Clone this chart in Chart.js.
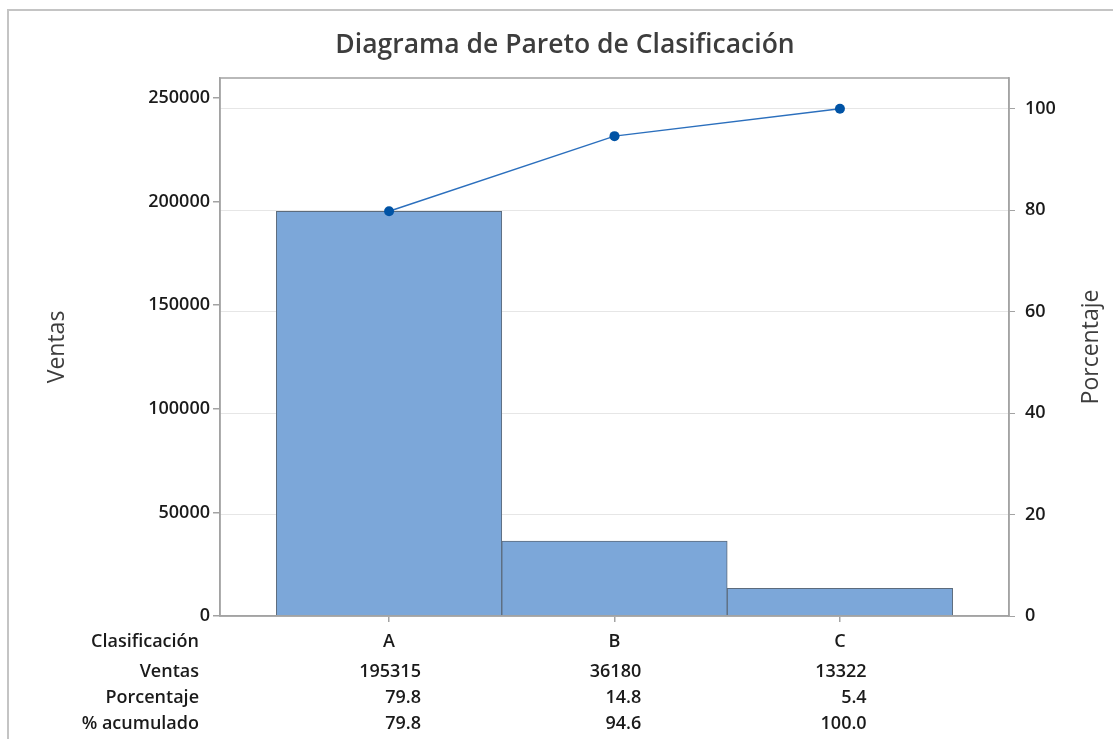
<!DOCTYPE html>
<html>
<head>
<meta charset="utf-8">
<script src="https://cdn.jsdelivr.net/npm/chart.js@4"></script>
<style>
html,body{margin:0;padding:0;background:#fff;}
#wrap{width:1113px;height:739px;position:relative;}
</style>
</head>
<body>
<div id="wrap"><canvas id="c" width="1113" height="739"></canvas></div>
<script>
const categories = ['A', 'B', 'C'];
const ventas = [195315, 36180, 13322];
const porcentaje = ['79.8', '14.8', '5.4'];
const acumulado = [79.8, 94.6, 100.0];
const acumuladoLabels = ['79.8', '94.6', '100.0'];
const leftTicks = [0, 50000, 100000, 150000, 200000, 250000];
const rightTicks = [0, 20, 40, 60, 80, 100];
const rowLabels = ['Clasificación', 'Ventas', 'Porcentaje', '% acumulado'];
const title = 'Diagrama de Pareto de Clasificación';

const total = ventas.reduce((a, b) => a + b, 0);
const leftMax = 259650;
const rightMax = leftMax / total * 100;

const FONT = '"Open Sans", "Noto Sans", sans-serif';
const TXT = '#1a1a1a';
const AXIS = '#a3a3a3';
const FS = 18;
const FW = '600';

const decor = {
  id: 'decor',
  beforeDraw(chart) {
    const ctx = chart.ctx;
    ctx.save();
    ctx.fillStyle = '#fff';
    ctx.fillRect(0, 0, chart.width, chart.height);
    ctx.strokeStyle = '#c4c4c4';
    ctx.lineWidth = 2;
    ctx.beginPath();
    ctx.moveTo(8, chart.height);
    ctx.lineTo(8, 10);
    ctx.lineTo(chart.width, 10);
    ctx.stroke();
    ctx.restore();
  },
  afterDraw(chart) {
    const ctx = chart.ctx;
    const a = chart.chartArea;
    const xs = chart.scales.x;
    ctx.save();
    ctx.strokeStyle = AXIS;
    ctx.lineWidth = 1.5;
    ctx.strokeRect(a.left, a.top, a.right - a.left, a.bottom - a.top);
    ctx.fillStyle = '#3d3d3d';
    ctx.font = '600 26.5px ' + FONT;
    ctx.textAlign = 'center';
    ctx.textBaseline = 'alphabetic';
    ctx.fillText(title, 565, 53);
    ctx.font = '500 23px ' + FONT;
    ctx.fillStyle = '#3d3d3d';
    ctx.textBaseline = 'middle';
    ctx.save();
    ctx.translate(57, (a.top + a.bottom) / 2);
    ctx.rotate(-Math.PI / 2);
    ctx.fillText('Ventas', 0, 0);
    ctx.restore();
    ctx.save();
    ctx.translate(1091, (a.top + a.bottom) / 2);
    ctx.rotate(-Math.PI / 2);
    ctx.fillText('Porcentaje', 0, 0);
    ctx.restore();
    ctx.font = FW + ' ' + FS + 'px ' + FONT;
    ctx.fillStyle = TXT;
    ctx.textBaseline = 'alphabetic';
    const base = [647, 677, 703, 729];
    ctx.textAlign = 'right';
    rowLabels.forEach((l, i) => ctx.fillText(l, 199, base[i]));
    categories.forEach((c, i) => {
      const cx = xs.getPixelForValue(i);
      ctx.textAlign = 'center';
      ctx.fillText(c, cx, base[0]);
      const vals = [String(ventas[i]), porcentaje[i], acumuladoLabels[i]];
      const w = Math.max(...vals.map(v => ctx.measureText(v).width));
      const rx = cx + w / 2 + 1;
      ctx.textAlign = 'right';
      vals.forEach((v, j) => ctx.fillText(v, rx, base[j + 1]));
    });
    ctx.restore();
  }
};

new Chart(document.getElementById('c'), {
  data: {
    datasets: [
      {
        type: 'bar',
        data: categories.map((c, i) => ({ x: i, y: ventas[i] })),
        backgroundColor: '#7ca7d9',
        borderColor: '#5c6b7c',
        borderWidth: 1,
        barPercentage: 1,
        categoryPercentage: 1,
        yAxisID: 'y',
        order: 2
      },
      {
        type: 'line',
        data: categories.map((c, i) => ({ x: i, y: acumulado[i] })),
        borderColor: '#2b6fbd',
        borderWidth: 1.5,
        pointRadius: 5,
        pointBackgroundColor: '#0053a5',
        pointBorderWidth: 0,
        yAxisID: 'y1',
        order: 1
      }
    ]
  },
  options: {
    responsive: false,
    animation: false,
    layout: { padding: { left: 0, right: 0, top: 78, bottom: 0 } },
    plugins: { legend: { display: false }, tooltip: { enabled: false } },
    scales: {
      x: {
        type: 'linear',
        offset: false,
        min: -0.75,
        max: 2.75,
        afterBuildTicks: s => { s.ticks = categories.map((c, i) => ({ value: i })); },
        afterFit: s => { s.height = 123; },
        ticks: { callback: () => '', padding: 0 },
        grid: { offset: false, drawOnChartArea: false, tickLength: 6, color: AXIS, tickColor: AXIS, lineWidth: 1.5 },
        border: { display: true, color: AXIS, width: 1.5 }
      },
      y: {
        position: 'left',
        min: 0,
        max: leftMax,
        afterBuildTicks: s => { s.ticks = leftTicks.map(v => ({ value: v })); },
        afterFit: s => { s.width = 220; },
        ticks: { color: TXT, font: { family: FONT, size: FS, weight: FW }, padding: 3, callback: v => String(v) },
        grid: { drawOnChartArea: false, tickLength: 7, color: AXIS, tickColor: AXIS, lineWidth: 1.5 },
        border: { display: true, color: AXIS, width: 1.5 }
      },
      y1: {
        position: 'right',
        min: 0,
        max: rightMax,
        afterBuildTicks: s => { s.ticks = rightTicks.map(v => ({ value: v })); },
        afterFit: s => { s.width = 104; },
        ticks: { color: TXT, font: { family: FONT, size: FS, weight: FW }, padding: 10, callback: v => String(v) },
        grid: { drawOnChartArea: true, tickLength: 6, color: '#e6e6e6', tickColor: AXIS, lineWidth: 1 },
        border: { display: true, color: AXIS, width: 1.5 }
      }
    }
  },
  plugins: [decor]
});
</script>
</body>
</html>
